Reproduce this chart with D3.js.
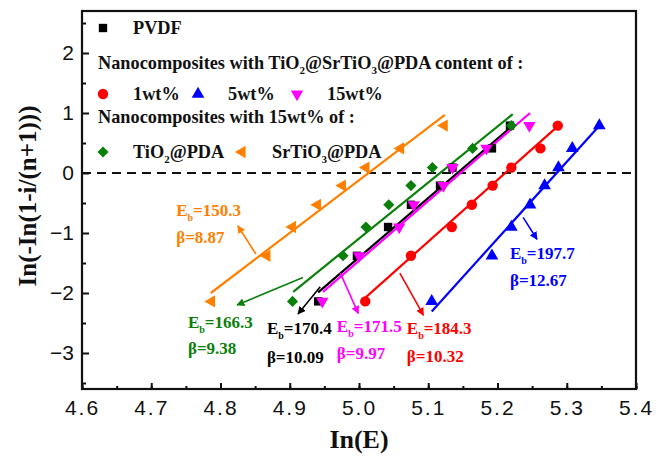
<!DOCTYPE html>
<html>

<head>
  <meta charset="UTF-8">
  <title>Weibull breakdown plot</title>
  <script src="https://d3js.org/d3.v7.min.js"></script>
  <style>
    body {
      margin: 0;
      background: #fff;
    }

    .tick text {
      font-family: "Liberation Sans", Arial, sans-serif;
      font-size: 21px;
      fill: #111;
    }

    .serif {
      font-family: "Liberation Serif", "Times New Roman", serif;
      font-weight: bold;
    }
  </style>
</head>

<body>
  <div id="chart"></div>
  <script>
    // y levels shared by every series
    var yLevels = [-2.14, -1.38, -0.90, -0.53, -0.21, 0.09, 0.41, 0.79];

    // x values (ln E) per series
    var xPVDF = [4.941, 4.997, 5.042, 5.075, 5.117, 5.135, 5.192, 5.218];
    var x1wt = [5.009, 5.075, 5.134, 5.163, 5.193, 5.220, 5.262, 5.287];
    var x5wt = [5.105, 5.192, 5.220, 5.247, 5.268, 5.288, 5.308, 5.347];
    var x15wt = [4.947, 5.000, 5.058, 5.079, 5.122, 5.135, 5.184, 5.246];
    var xTiO2 = [4.904, 4.977, 5.010, 5.043, 5.075, 5.106, 5.164, 5.220];
    var xSrTiO3 = [4.787, 4.867, 4.904, 4.940, 4.976, 5.010, 5.060, 5.123];

    // fitted lines, [start, end] in data units
    var fitPVDF = [[4.941, -1.99], [5.223, 0.80]];
    var fit1wt = [[5.008, -2.09], [5.288, 0.79]];
    var fit5wt = [[5.105, -2.31], [5.348, 0.80]];
    var fit15wt = [[4.948, -1.98], [5.247, 1.00]];
    var fitTiO2 = [[4.905, -1.98], [5.222, 0.98]];
    var fitSrTiO3 = [[4.786, -2.00], [5.124, 0.97]];

    // annotation texts
    var ebLabels = ["150.3", "166.3", "170.4", "171.5", "184.3", "197.7"];
    var betaLabels = ["8.87", "9.38", "10.09", "9.97", "10.32", "12.67"];

    var xTicks = [4.6, 4.7, 4.8, 4.9, 5.0, 5.1, 5.2, 5.3, 5.4];
    var yTicks = [-3, -2, -1, 0, 1, 2];

    var width = 656, height = 460;

    var svg = d3.select("#chart").append("svg")
      .attr("width", width)
      .attr("height", height);

    var x = d3.scaleLinear().domain([4.6, 5.4]).range([82, 636]);
    var y = d3.scaleLinear().domain([-3.6, 2.7]).range([389, 11]);

    var series = [
      { xs: xPVDF, fit: fitPVDF, color: "#000000", shape: d3.symbolSquare, size: 70, rot: 0 },
      { xs: xTiO2, fit: fitTiO2, color: "#0a800a", shape: d3.symbolSquare, size: 62, rot: 45 },
      { xs: xSrTiO3, fit: fitSrTiO3, color: "#ff8000", shape: d3.symbolTriangle, size: 66, rot: -90 },
      { xs: x15wt, fit: fit15wt, color: "#ff00ff", shape: d3.symbolTriangle, size: 66, rot: 180 },
      { xs: x1wt, fit: fit1wt, color: "#ff0000", shape: d3.symbolCircle, size: 85, rot: 0 },
      { xs: x5wt, fit: fit5wt, color: "#0000ff", shape: d3.symbolTriangle, size: 70, rot: 0 }
    ];

    // annotation layout: text anchor and arrow in data units
    var notes = [
      { color: "#ff8000", tx: 4.736, ty: -0.62, by: -1.06, arrow: [[4.851, -1.35], [4.825, -0.88]] },
      { color: "#0a800a", tx: 4.753, ty: -2.48, by: -2.92, arrow: [[4.919, -1.74], [4.824, -2.20]] },
      { color: "#000000", tx: 4.867, ty: -2.59, by: -3.06, arrow: [[4.944, -1.895], [4.912, -2.35]] },
      { color: "#ff00ff", tx: 4.968, ty: -2.55, by: -3.00, arrow: [[4.973, -1.67], [4.999, -2.34]] },
      { color: "#ff0000", tx: 5.069, ty: -2.59, by: -3.05, arrow: [[5.059, -1.67], [5.093, -2.37]] },
      { color: "#0000ff", tx: 5.218, ty: -1.34, by: -1.78, arrow: [[5.237, -0.74], [5.257, -1.105]] }
    ];

    // arrow heads
    var defs = svg.append("defs");
    notes.forEach(function (n, i) {
      defs.append("marker")
        .attr("id", "arr" + i)
        .attr("viewBox", "0 0 10 10")
        .attr("refX", 9).attr("refY", 5)
        .attr("markerWidth", 8).attr("markerHeight", 8)
        .attr("markerUnits", "userSpaceOnUse")
        .attr("orient", "auto")
        .append("path")
        .attr("d", "M0,0L10,5L0,10z")
        .attr("fill", n.color);
    });

    // axes with inward ticks
    svg.append("g")
      .attr("transform", "translate(0,389)")
      .call(d3.axisBottom(x).tickValues(d3.range(4.6, 5.41, 0.05)).tickSize(-3).tickFormat(""))
      .call(function (g) { g.select(".domain").remove(); });
    svg.append("g")
      .attr("transform", "translate(0,389)")
      .call(d3.axisBottom(x).tickValues(xTicks).tickSize(-6).tickPadding(11).tickFormat(d3.format(".1f")))
      .call(function (g) { g.select(".domain").remove(); })
      .selectAll("text").attr("letter-spacing", "2px");

    svg.append("g")
      .attr("transform", "translate(82,0)")
      .call(d3.axisLeft(y).tickValues([-3.5, -2.5, -1.5, -0.5, 0.5, 1.5, 2.5]).tickSize(-4).tickFormat(""))
      .call(function (g) { g.select(".domain").remove(); });
    svg.append("g")
      .attr("transform", "translate(82,0)")
      .call(d3.axisLeft(y).tickValues(yTicks).tickSize(-7).tickPadding(8).tickFormat(d3.format("d")))
      .call(function (g) { g.select(".domain").remove(); });

    svg.selectAll(".tick line").attr("stroke", "#111").attr("stroke-width", 2);

    // frame
    svg.append("rect")
      .attr("x", 82).attr("y", 11)
      .attr("width", 554).attr("height", 378)
      .attr("fill", "none")
      .attr("stroke", "#111")
      .attr("stroke-width", 2.2);

    // zero line
    svg.append("line")
      .attr("x1", x(4.6)).attr("x2", x(5.4))
      .attr("y1", y(0)).attr("y2", y(0))
      .attr("stroke", "#111")
      .attr("stroke-width", 2)
      .attr("stroke-dasharray", "9,6");

    // fit lines
    series.forEach(function (s) {
      svg.append("line")
        .attr("x1", x(s.fit[0][0])).attr("y1", y(s.fit[0][1]))
        .attr("x2", x(s.fit[1][0])).attr("y2", y(s.fit[1][1]))
        .attr("stroke", s.color)
        .attr("stroke-width", 2.2);
    });

    // points
    series.forEach(function (s) {
      svg.append("g").selectAll("path")
        .data(s.xs)
        .enter().append("path")
        .attr("d", d3.symbol().type(s.shape).size(s.size))
        .attr("transform", function (d, i) {
          return "translate(" + x(d) + "," + y(yLevels[i]) + ") rotate(" + s.rot + ")";
        })
        .attr("fill", s.color);
    });

    // annotations
    notes.forEach(function (n, i) {
      svg.append("line")
        .attr("x1", x(n.arrow[0][0])).attr("y1", y(n.arrow[0][1]))
        .attr("x2", x(n.arrow[1][0])).attr("y2", y(n.arrow[1][1]))
        .attr("stroke", n.color)
        .attr("stroke-width", 1.6)
        .attr("marker-end", "url(#arr" + i + ")");

      var t = svg.append("text")
        .attr("class", "serif")
        .attr("x", x(n.tx)).attr("y", y(n.ty))
        .attr("dy", "0.35em")
        .attr("font-size", 17)
        .attr("fill", n.color);
      t.append("tspan").text("E");
      t.append("tspan").attr("font-size", 10).attr("dy", 5).text("b");
      t.append("tspan").attr("dy", -5).text("=" + ebLabels[i]);

      svg.append("text")
        .attr("class", "serif")
        .attr("x", x(n.tx)).attr("y", y(n.by))
        .attr("dy", "0.35em")
        .attr("font-size", 17)
        .attr("fill", n.color)
        .text("\u03b2=" + betaLabels[i]);
    });

    // legend
    var legend = svg.append("g").attr("class", "serif").attr("font-size", 18.3).attr("fill", "#111");

    function legendItem(mx, my, s, label, sub) {
      svg.append("path")
        .attr("d", d3.symbol().type(s.shape).size(s.size))
        .attr("transform", "translate(" + mx + "," + my + ") rotate(" + s.rot + ")")
        .attr("fill", s.color);
      var t = legend.append("text").attr("x", mx + 30).attr("y", my).attr("dy", "0.35em");
      if (sub) {
        t.append("tspan").text(label[0]);
        t.append("tspan").attr("font-size", 11).attr("dy", 5).text(sub);
        t.append("tspan").attr("dy", -5).text(label[1]);
      } else {
        t.text(label);
      }
    }

    legendItem(103, 28, series[0], "PVDF");

    var l2 = legend.append("text").attr("x", 98).attr("y", 63).attr("dy", "0.35em");
    l2.append("tspan").text("Nanocomposites with TiO");
    l2.append("tspan").attr("font-size", 11).attr("dy", 5).text("2");
    l2.append("tspan").attr("dy", -5).text("@SrTiO");
    l2.append("tspan").attr("font-size", 11).attr("dy", 5).text("3");
    l2.append("tspan").attr("dy", -5).text("@PDA content of :");

    legendItem(103, 94, series[4], "1wt%");
    legendItem(198, 94, series[5], "5wt%");
    legendItem(297, 94, series[3], "15wt%");

    legend.append("text").attr("x", 98).attr("y", 117).attr("dy", "0.35em")
      .text("Nanocomposites with 15wt% of :");

    legendItem(103, 152, series[1], ["TiO", "@PDA"], "2");
    legendItem(242, 152, series[2], ["SrTiO", "@PDA"], "3");

    // axis titles
    svg.append("text")
      .attr("class", "serif")
      .attr("x", x(5.0)).attr("y", 448)
      .attr("text-anchor", "middle")
      .attr("font-size", 26)
      .attr("fill", "#111")
      .text("In(E)");

    svg.append("text")
      .attr("class", "serif")
      .attr("transform", "translate(36,196) rotate(-90)")
      .attr("text-anchor", "middle")
      .attr("font-size", 25)
      .attr("fill", "#111")
      .text("In(-In(1-i/(n+1)))");
  </script>
</body>

</html>
